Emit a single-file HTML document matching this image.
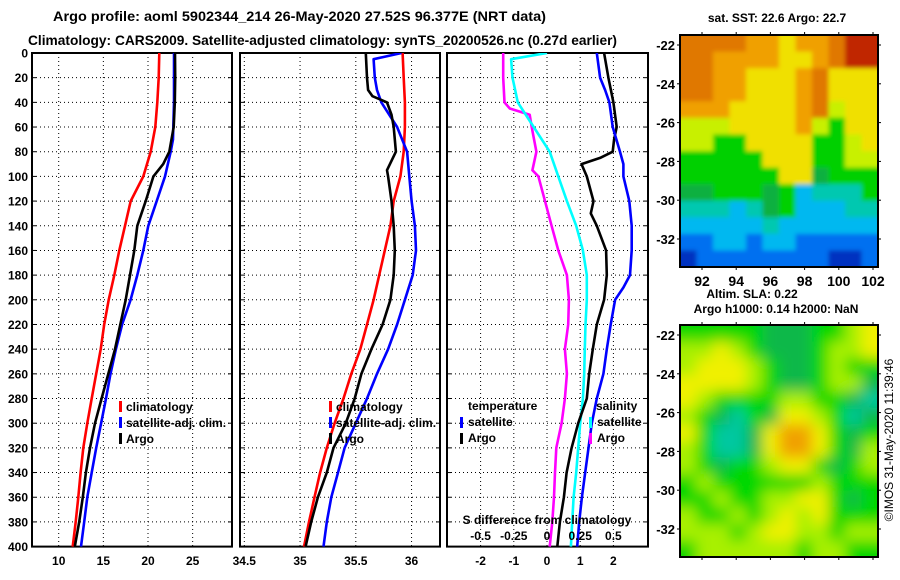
<!DOCTYPE html>
<html><head><meta charset="utf-8">
<style>
html,body{margin:0;padding:0;background:#fff;}
svg{display:block;font-family:"Liberation Sans",Arial,sans-serif;font-weight:bold;}
</style></head>
<body>
<svg id="chart" width="900" height="580" viewBox="0 0 900 580" xmlns="http://www.w3.org/2000/svg">
<defs>
<clipPath id="cp1"><rect x="32" y="53" width="200" height="494"/></clipPath>
<clipPath id="cp2"><rect x="240" y="53" width="200" height="494"/></clipPath>
<clipPath id="cp3"><rect x="447" y="53" width="201" height="494"/></clipPath>
<clipPath id="cm1"><rect x="680" y="35" width="198" height="232"/></clipPath>
<clipPath id="cm2"><rect x="680" y="325" width="198" height="232"/></clipPath>
<filter id="blur2" x="-10%" y="-10%" width="120%" height="120%"><feGaussianBlur stdDeviation="7"/></filter>
<filter id="blur1" x="-10%" y="-10%" width="120%" height="120%"><feGaussianBlur stdDeviation="2"/></filter>
</defs>
<text x="53" y="21" font-size="14" textLength="493" lengthAdjust="spacingAndGlyphs">Argo profile: aoml 5902344_214 26-May-2020 27.52S 96.377E (NRT data)</text>
<text x="28" y="45" font-size="14" textLength="589" lengthAdjust="spacingAndGlyphs">Climatology: CARS2009. Satellite-adjusted climatology: synTS_20200526.nc (0.27d earlier)</text>
<g id="g"></g>
</svg>
<script>
// ---------- data ----------
const depthTicks = [0,20,40,60,80,100,120,140,160,180,200,220,240,260,280,300,320,340,360,380,400];
const tempTicks = [10,15,20,25];
const salTicks = [34.5,35,35.5,36];
const diffTTicks = [-2,-1,0,1,2];
const diffSTicks = [-0.5,-0.25,0,0.25,0.5];
const diffSTickLabels = ["-0.5","-0.25","0","0.25","0.5"];

// Temperature panel
const tClimDepth = [0,20,40,60,80,100,120,140,160,180,200,220,240,260,280,300,320,340,360,380,400];
const tClim = [21.27,21.2,21.04,20.82,20.3,19.47,18.06,17.42,16.79,16.23,15.6,15.1,14.7,14.2,13.7,13.2,12.75,12.45,12.2,11.9,11.57];
const tSatDepth = [0,20,40,60,70,80,100,120,140,160,180,200,220,240,260,280,300,320,340,360,380,400];
const tSat = [22.91,22.91,22.91,22.83,22.8,22.54,21.9,20.97,20.03,19.47,18.8,18.05,17.1,16.4,15.8,15.3,14.75,14.2,13.7,13.2,12.85,12.5];
const tArgoDepth = [0,20,40,60,80,90,100,120,140,160,180,200,220,240,260,280,300,320,340,360,380,400];
const tArgo = [23.02,23.05,23.0,22.88,22.39,21.7,20.6,19.74,18.8,18.47,17.98,17.5,16.9,16.3,15.55,14.8,14.07,13.5,13.05,12.7,12.3,11.8];
// Salinity panel
const sClimDepth = [0,20,40,60,80,100,120,140,160,180,200,220,240,260,280,300,320,340,360,380,400];
const sClim = [35.92,35.93,35.94,35.94,35.93,35.9,35.84,35.81,35.76,35.71,35.66,35.6,35.54,35.46,35.39,35.31,35.24,35.18,35.13,35.08,35.035];
const sSatDepth = [0,5,20,30,40,60,80,100,120,140,160,180,200,220,240,260,280,300,320,340,360,380,400];
const sSat = [35.91,35.66,35.67,35.69,35.73,35.87,35.96,35.98,36.0,36.03,36.04,36.01,35.94,35.87,35.79,35.69,35.6,35.5,35.4,35.34,35.28,35.24,35.21];
const sArgoDepth = [0,20,30,35,40,50,60,80,95,100,120,140,160,180,200,220,240,260,280,300,320,340,360,380,400];
const sArgo = [35.59,35.6,35.61,35.65,35.78,35.82,35.84,35.86,35.78,35.79,35.82,35.84,35.85,35.84,35.81,35.74,35.64,35.55,35.49,35.41,35.3,35.24,35.16,35.1,35.05];
// Difference panel
const dTSatDepth = [0,20,30,40,60,80,90,100,120,140,160,180,190,200,220,240,260,280,300,320,340,360,380,400];
const dTSat = [1.5,1.6,1.75,1.88,1.98,2.2,2.3,2.3,2.48,2.55,2.55,2.5,2.3,2.05,1.92,1.8,1.7,1.5,1.35,1.25,1.15,1.05,0.97,0.91];
const dTArgoDepth = [0,20,40,60,70,80,85,90,100,120,130,140,160,180,200,220,240,260,280,300,320,340,360,380,400];
const dTArgo = [1.72,1.85,2.0,2.1,2.02,1.98,1.6,1.04,1.2,1.4,1.32,1.5,1.78,1.8,1.72,1.5,1.38,1.27,1.2,0.94,0.74,0.59,0.51,0.39,0.31];
const dSSatDepth = [0,5,20,40,60,80,100,120,140,160,180,200,220,240,260,280,300,320,340,360,380,400];
const dSSat = [0,-0.27,-0.26,-0.22,-0.1,0.02,0.085,0.15,0.22,0.27,0.3,0.3,0.29,0.285,0.28,0.27,0.25,0.235,0.22,0.2,0.19,0.18];
const dSArgoDepth = [0,20,40,45,50,60,80,95,100,120,140,160,180,200,220,240,260,280,300,320,340,360,380,400];
const dSArgo = [-0.33,-0.33,-0.32,-0.28,-0.13,-0.115,-0.08,-0.11,-0.065,-0.015,0.035,0.085,0.15,0.165,0.16,0.135,0.15,0.135,0.11,0.07,0.06,0.053,0.04,0.02];

// Map colour grids (rows north->south, cols west->east)
const sstGrid = [
"OOOOooYooORR","OOooooYYoORR","OOooYYYoOYYY","OOooYYYoOYYY","oooYYYYoOyYY","yyyYYYYoyGYY",
"yyGGYYYYGGyY","GGGGGYYYGGyy","GGGGGGYYgGGG","ggGGGgGCTTTG","TTTCTgGCCCTT","CCCCCTCCCCCC","BBCCBCCBBBBB","DBBBBBBBBDDB"];
const slaGrid = [
"GGGGGgggGGlY","llYlGgggGllY","lYYYlGggGlGG","YYYYlGggGllg","YlGGGGllGGgT","lGgTGgYYlGTg",
"YGTTgYOOYGgG","lGTTgYOOYGgl","lGgGGlYYGgGl","GlGGGGGGlGGG","GGlGGllYYGgG","lGGlGlYlYGGG","lllGlYYllGll","GllllllGllGG"];
const sstColors = {R:"#c02800",O:"#e07800",o:"#f0a000",Y:"#f0e000",y:"#c8f000",G:"#00d000",g:"#10b040",T:"#00c8b0",C:"#00b8f0",B:"#0070f0",D:"#0030c0"};
const slaColors = {G:"#00d800",g:"#10b848",T:"#00c8a0",l:"#a8f000",Y:"#f0f000",O:"#f0a000"};
const lonTicks = [92,94,96,98,100,102];
const latTicks = [-22,-24,-26,-28,-30,-32];

// ---------- helpers ----------
const NS = "http://www.w3.org/2000/svg";
const root = document.getElementById('g');
function mk(tag, attrs, parent){ const e=document.createElementNS(NS,tag); for(const k in attrs) e.setAttribute(k,attrs[k]); (parent||root).appendChild(e); return e; }
const Y0=53, Y1=546.6;
const yD = d => Y0 + d*(Y1-Y0)/400;
const xT = t => 58.7 + (t-10)*8.93;
const xS = s => 244.3 + (s-34.5)*111.5;
const xDT = v => 547 + v*33.2;
const xDS = v => 547 + v*132.8;

function panel(name, x0, x1, xs, xticks, labels){
  const g = mk('g',{});
  
  
  depthTicks.forEach(d=>{
    if(d>0 && d<400){
      const l = mk('line',{x1:x0,x2:x1,y1:yD(d),y2:yD(d),stroke:'#000','stroke-width':1,'stroke-dasharray':'1,3'},g);
      
      
    }
    mk('line',{x1:x0,x2:x0+4,y1:yD(d),y2:yD(d),stroke:'#000','stroke-width':1},g);
    mk('line',{x1:x1-4,x2:x1,y1:yD(d),y2:yD(d),stroke:'#000','stroke-width':1},g);
  });
  xticks.forEach((t,i)=>{
    const x = xs(t);
    const l = mk('line',{x1:x,x2:x,y1:Y0,y2:Y1,stroke:'#000','stroke-width':1,'stroke-dasharray':'1,3'},g);
    
    
    if(labels){
      const tx = mk('text',{x:x,y:565,'font-size':12,'text-anchor':'middle'},g);
      tx.textContent = labels[i];
      
      
    }
  });
  const r = mk('rect',{x:x0,y:Y0,width:x1-x0,height:Y1-Y0,fill:'none',stroke:'#000','stroke-width':2},g);
  
  
  return g;
}
function series(name, depths, vals, xs, color, cp){
  const pts = depths.map((d,i)=> xs(vals[i]).toFixed(1)+','+yD(d).toFixed(1)).join(' ');
  const p = mk('polyline',{points:pts,fill:'none',stroke:color,'stroke-width':2.6,'stroke-linejoin':'round','clip-path':'url(#'+cp+')'});
  
  
}
function txt(name, x, y, s, size, anchor){
  const t = mk('text',{x:x,y:y,'font-size':size||12,'text-anchor':anchor||'start'});
  t.textContent = s;
  
  
  return t;
}
function legBar(name, x, y, color){
  const r = mk('rect',{x:x,y:y,width:3,height:11,fill:color});
  
  
}

// ---------- panels ----------
panel('temperature-panel', 32, 232, xT, tempTicks, tempTicks.map(String));
panel('salinity-panel', 240, 440, xS, salTicks, ["34.5","35","35.5","36"]);
panel('difference-panel', 447, 648, xDT, diffTTicks, diffTTicks.map(String));

depthTicks.forEach(d=>{
  txt('y-tick-label', 28, yD(d)+4.5, String(d), 12, 'end');
});

series('temp-climatology-line', tClimDepth, tClim, xT, '#ff0000', 'cp1');
series('temp-satellite-line', tSatDepth, tSat, xT, '#0000ff', 'cp1');
series('temp-argo-line', tArgoDepth, tArgo, xT, '#000000', 'cp1');
series('sal-climatology-line', sClimDepth, sClim, xS, '#ff0000', 'cp2');
series('sal-satellite-line', sSatDepth, sSat, xS, '#0000ff', 'cp2');
series('sal-argo-line', sArgoDepth, sArgo, xS, '#000000', 'cp2');
series('sdiff-argo-line', dSArgoDepth, dSArgo, xDS, '#ff00ff', 'cp3');
series('sdiff-satellite-line', dSSatDepth, dSSat, xDS, '#00ffff', 'cp3');
series('tdiff-argo-line', dTArgoDepth, dTArgo, xDT, '#000000', 'cp3');
series('tdiff-satellite-line', dTSatDepth, dTSat, xDT, '#0000ff', 'cp3');

// legends
[['#ff0000','climatology'],['#0000ff','satellite-adj. clim.'],['#000000','Argo']].forEach((e,i)=>{
  legBar('legend-swatch', 119, 401+i*16, e[0]); txt('legend-entry', 126, 411+i*16, e[1], 12);
  legBar('legend-swatch', 329, 401+i*16, e[0]); txt('legend-entry', 336, 411+i*16, e[1], 12);
});
txt('legend-title-temperature', 468, 410, 'temperature', 12);
legBar('legend-swatch', 460, 417, '#0000ff'); txt('legend-entry', 468, 426, 'satellite', 12);
legBar('legend-swatch', 460, 433, '#000000'); txt('legend-entry', 468, 442, 'Argo', 12);
txt('legend-title-salinity', 596, 410, 'salinity', 12);
legBar('legend-swatch', 589, 417, '#00ffff'); txt('legend-entry', 597, 426, 'satellite', 12);
legBar('legend-swatch', 589, 433, '#ff00ff'); txt('legend-entry', 597, 442, 'Argo', 12);
txt('s-difference-axis-title', 547, 524, 'S difference from climatology', 12, 'middle');
diffSTicks.forEach((v,i)=>{ txt('s-diff-tick-label', xDS(v), 540, diffSTickLabels[i], 12, 'middle'); });

// ---------- maps ----------
function mapPanel(name, grid, colors, x0, y0, w, h, cp, filt, showLon){
  const g = mk('g',{'clip-path':'url(#'+cp+')'});
  
  
  const inner = mk('g',{filter:'url(#'+filt+')'}, g);
  const rows = grid.length, cols = grid[0].length;
  const cw = w/cols, ch = h/rows;
  for(let r=0;r<rows;r++) for(let c=0;c<cols;c++){
    const cx = x0 + c*cw - (c===0?14:0), cy = y0 + r*ch - (r===0?14:0);
    const ww = cw + 0.6 + (c===0?14:0) + (c===cols-1?14:0), hh = ch + 0.6 + (r===0?14:0) + (r===rows-1?14:0);
    const cell = mk('rect',{x:cx,y:cy,width:ww,height:hh,fill:colors[grid[r][c]]},inner);
    
    
  }
  const fr = mk('rect',{x:x0,y:y0,width:w,height:h,fill:'none',stroke:'#000','stroke-width':2});
  
  
  const lonX = lon => x0 + 22 + (lon-92)*17.1;
  const latY = lat => y0 + 10 + (-22-lat)*19.4;
  lonTicks.forEach(l=>{
    const x = lonX(l);
    mk('line',{x1:x,x2:x,y1:y0-3,y2:y0,stroke:'#000'}); mk('line',{x1:x,x2:x,y1:y0+h,y2:y0+h+3,stroke:'#000'});
    if(showLon) txt('map-lon-label', x, y0+h+19, String(l), 14, 'middle');
  });
  latTicks.forEach(l=>{
    const y = latY(l);
    mk('line',{x1:x0-3,x2:x0,y1:y,y2:y,stroke:'#000'}); mk('line',{x1:x0+w,x2:x0+w+3,y1:y,y2:y,stroke:'#000'});
    txt('map-lat-label', x0-5, y+5, String(l), 13, 'end');
  });
}
mapPanel('sst-map', sstGrid, sstColors, 680, 35, 198, 232, 'cm1', 'blur1', true);
mapPanel('sla-map', slaGrid, slaColors, 680, 325, 198, 232, 'cm2', 'blur2', false);
txt('sst-map-title', 777, 22, 'sat. SST: 22.6 Argo: 22.7', 12, 'middle');
txt('sla-map-title-1', 752, 298, 'Altim. SLA: 0.22', 12, 'middle');
txt('sla-map-title-2', 776, 313, 'Argo h1000: 0.14 h2000: NaN', 12, 'middle');
const cr = txt('imos-credit', 0, 0, '\u00a9IMOS 31-May-2020 11:39:46', 12, 'middle');
cr.setAttribute('font-weight','normal');
cr.setAttribute('transform','translate(893,440) rotate(-90)');
</script>
</body></html>
